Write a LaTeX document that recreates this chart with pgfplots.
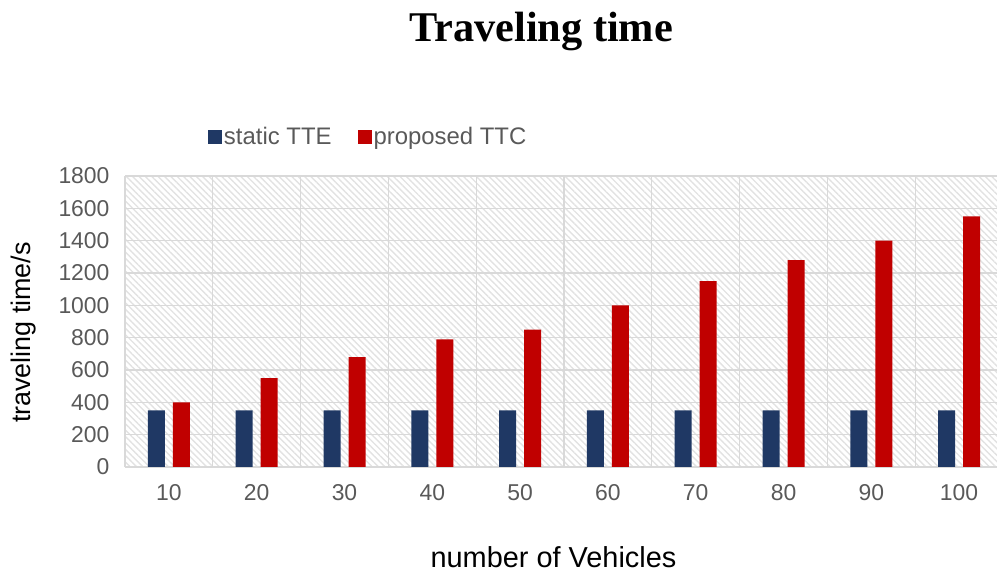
\documentclass[border=0pt]{standalone}
\usepackage{pgfplots}
\pgfplotsset{compat=1.18}
\usepackage{fontspec}
\setmainfont{Liberation Sans}
\newfontfamily\titlefont{Liberation Serif}
\usetikzlibrary{patterns.meta}
\definecolor{navy}{HTML}{1F3864}
\definecolor{darkred}{HTML}{C00000}
\definecolor{txtgray}{HTML}{595959}
\definecolor{gridgray}{HTML}{D9D9D9}
\definecolor{hatchgray}{HTML}{E2E2E2}

\pgfplotstableread{
n   tte  ttc
1   350  400
2   350  550
3   350  680
4   350  790
5   350  850
6   350  1000
7   350  1150
8   350  1280
9   350  1400
10  350  1550
}\traveldata

\begin{document}
\begin{tikzpicture}
\clip (0,0) rectangle (997bp,572bp);
\begin{axis}[
  at={(125bp,105bp)}, anchor=south west,
  scale only axis,
  width=878bp, height=291bp,
  xmin=0.5, xmax=10.5,
  ymin=0, ymax=1800,
  ytick={0,200,...,1800},
  xtick={1,...,10},
  xticklabels={10,20,30,40,50,60,70,80,90,100},
  minor xtick={0.5,1.5,...,10.5},
  ymajorgrids, xminorgrids,
  grid style={gridgray, line width=1.3bp},
  minor grid style={gridgray, line width=1.3bp},
  major tick length=0pt, minor tick length=0pt,
  axis line style={draw=none},
  axis background/.style={pattern={Lines[angle=-45, distance=4.5bp, line width=1.4bp]}, pattern color=hatchgray},
  /pgf/number format/assume math mode=true,
  /pgf/number format/1000 sep={},
  ticklabel style={font=\fontsize{23}{26}\selectfont, text=txtgray},
  yticklabel style={xshift=-12bp},
  xticklabel style={yshift=-14bp},
  xlabel={number of Vehicles},
  ylabel={traveling time/s},
  label style={text=black},
  xlabel style={font=\fontsize{29}{32}\selectfont, at={(axis description cs:0.488,-0.31)}, anchor=center},
  ylabel style={font=\fontsize{27}{30}\selectfont, at={(axis description cs:-0.115,0.462)}, anchor=center},
  title={Traveling time},
  title style={font=\titlefont\bfseries\fontsize{42.5}{46}\selectfont,
    at={(axis description cs:0.474,1.475)}, anchor=center},
  ybar,
  bar width=17bp,
  legend columns=2,
  legend style={draw=none, fill=none,
    at={(axis description cs:0.277,1.135)}, anchor=center,
    font=\fontsize{24}{27}\selectfont, text=txtgray,
    /tikz/every even column/.append style={column sep=24bp}},
  legend image code/.code={\draw[#1,draw=none] (0bp,-7bp) rectangle (14bp,7bp);},
]
\addplot[fill=navy, draw=none, bar shift=-12.5bp] table[x=n, y=tte] {\traveldata};
\addplot[fill=darkred, draw=none, bar shift=12.5bp] table[x=n, y=ttc] {\traveldata};
\legend{static TTE, proposed TTC}
\end{axis}
\end{tikzpicture}
\end{document}
